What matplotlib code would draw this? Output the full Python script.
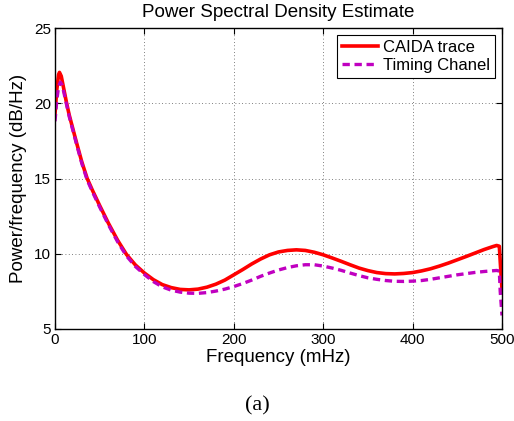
import matplotlib
matplotlib.use("Agg")
import matplotlib.pyplot as plt

# frequency (mHz) and PSD (dB/Hz)
freq_caida = [0, 2, 4, 5, 7, 10, 13, 16, 20, 24, 30, 36, 42, 50, 60, 70, 80, 90,
              100, 110, 120, 130, 140, 150, 160, 170, 180, 190, 200, 210, 220, 230,
              240, 250, 260, 270, 280, 290, 300, 310, 320, 330, 340, 350, 360, 370,
              380, 390, 400, 410, 420, 430, 440, 450, 460, 470, 480, 490, 494, 497,
              498, 500]
psd_caida = [19.3, 20.9, 21.9, 22.05, 21.8, 20.9, 20.0, 19.2, 18.3, 17.4, 16.1, 15.0,
             14.2, 13.2, 12.0, 10.9, 9.95, 9.25, 8.72, 8.28, 7.95, 7.75, 7.63, 7.6,
             7.65, 7.78, 7.98, 8.25, 8.6, 8.95, 9.32, 9.65, 9.93, 10.12, 10.22, 10.26,
             10.22, 10.1, 9.93, 9.72, 9.5, 9.27, 9.05, 8.88, 8.75, 8.68, 8.66, 8.69,
             8.75, 8.86, 9.0, 9.18, 9.38, 9.6, 9.82, 10.05, 10.28, 10.48, 10.55, 10.5,
             9.5, 7.6]

freq_timing = [0, 2, 4, 6, 8, 10, 13, 16, 20, 24, 30, 36, 42, 50, 60, 70, 80, 90,
               100, 110, 120, 130, 140, 150, 160, 170, 180, 190, 200, 210, 220, 230,
               240, 250, 260, 270, 280, 290, 300, 310, 320, 330, 340, 350, 360, 370,
               380, 390, 400, 410, 420, 430, 440, 450, 460, 470, 480, 490, 494, 497,
               498, 500]
psd_timing = [18.8, 20.2, 21.1, 21.4, 21.2, 20.7, 19.9, 19.1, 18.2, 17.3, 16.0, 14.9,
              14.1, 13.1, 11.9, 10.8, 9.85, 9.15, 8.62, 8.15, 7.8, 7.58, 7.45, 7.38,
              7.37, 7.42, 7.52, 7.65, 7.82, 8.02, 8.25, 8.5, 8.72, 8.92, 9.08, 9.2,
              9.27, 9.27, 9.18, 9.05, 8.9, 8.72, 8.55, 8.4, 8.3, 8.22, 8.17, 8.16,
              8.18, 8.22, 8.3, 8.4, 8.5, 8.6, 8.68, 8.76, 8.82, 8.87, 8.89, 8.85,
              7.5, 5.9]

xticks = [0, 100, 200, 300, 400, 500]
yticks = [5, 10, 15, 20, 25]

plt.rcParams['font.family'] = ['Liberation Sans', 'DejaVu Sans']

fig = plt.figure(figsize=(5.14, 4.21), dpi=100)
ax = fig.add_axes([55 / 514, 1 - 329 / 421, 447 / 514, 301 / 421])

ax.plot(freq_caida, psd_caida, color='red', lw=2.6, label='CAIDA trace')
ax.plot(freq_timing, psd_timing, color='#c000c0', lw=2.4, ls=(0, (2.2, 1.4)),
        label='Timing Chanel')

ax.set_xlim(0, 500)
ax.set_ylim(5, 25)
ax.set_xticks(xticks)
ax.set_yticks(yticks)
ax.tick_params(direction='in', top=True, right=True, length=4, width=0.8,
               labelsize=11, pad=3)
ax.grid(True, ls=(0, (1, 3)), color='#555555', lw=0.6)
for s in ax.spines.values():
    s.set_linewidth(1.0)

ax.set_title('Power Spectral Density Estimate', fontsize=13.5, pad=8)
ax.set_xlabel('Frequency (mHz)', fontsize=13.5, labelpad=1)
ax.set_ylabel('Power/frequency (dB/Hz)', fontsize=13.5, labelpad=5)

leg = ax.legend(loc='upper right', fontsize=12, frameon=True, fancybox=False,
                edgecolor='black', framealpha=1, borderaxespad=0.4,
                handlelength=2.2, handletextpad=0.3, borderpad=0.3,
                labelspacing=0.2)
leg.get_frame().set_linewidth(0.8)

fig.text(257 / 514, 1 - 406 / 421, '(a)', ha='center', va='center',
         fontsize=16, family='Liberation Serif')

fig.savefig('out.png', dpi=100)
